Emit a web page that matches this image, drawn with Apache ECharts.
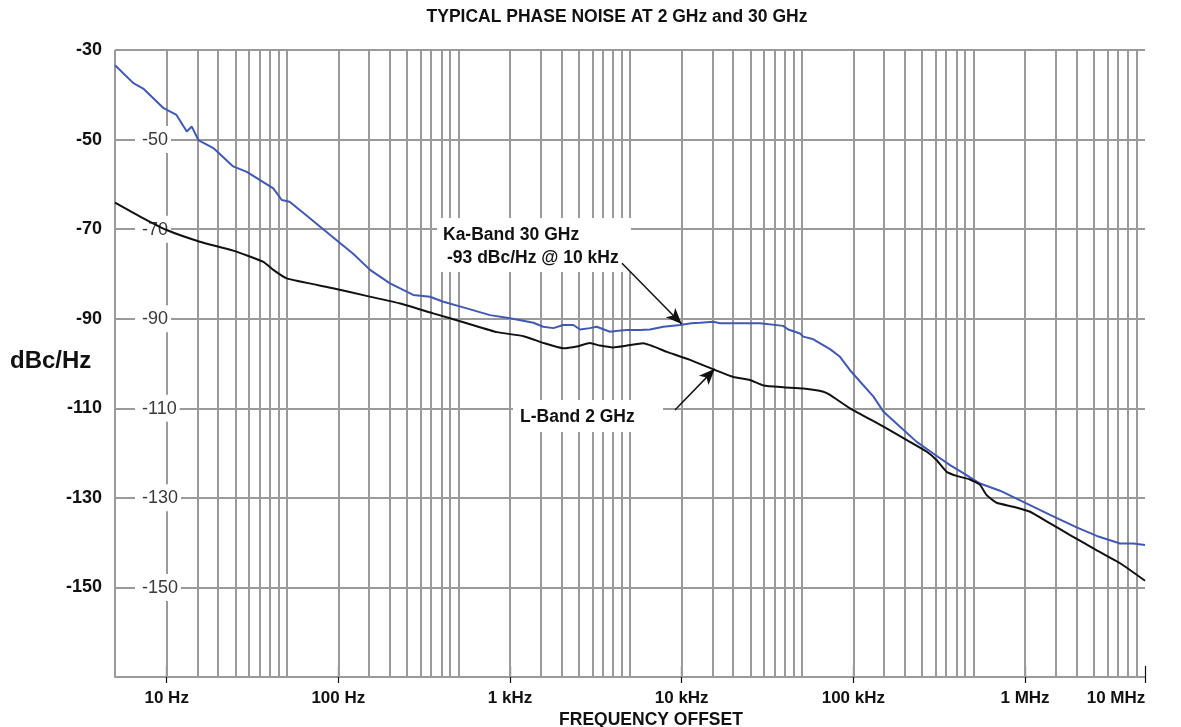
<!DOCTYPE html>
<html lang="en">
<head>
    <meta charset="UTF-8">
    <title>Typical phase noise at 2 GHz and 30 GHz</title>
    <script src="https://cdn.jsdelivr.net/npm/echarts@6/dist/echarts.min.js"></script>
    <style>
        html, body { margin: 0; padding: 0; background: #fff; }
    </style>
</head>
<body>
<div id="main" style="width: 1181px; height: 727px;"></div>
<script>
    // Ka-Band 30 GHz trace (offset in Hz, dBc/Hz)
    var kaFreq = [5, 6.4, 7.3, 9.6, 11.4, 13.1, 14.0, 15.3, 18.7, 24.4, 29.3, 41.8, 46.8, 52, 65, 93, 122, 153, 200, 273,
        342, 409, 560, 765, 1000, 1370, 1560, 1790, 2040, 2340, 2560, 2920, 3200, 3820, 4270, 4780, 5720, 6540, 7820,
        9800, 11400, 12800, 15300, 16700, 20000, 28600, 39000, 41800, 48900, 51100, 58500, 73100, 83600, 95600,
        114000, 131000, 150000, 187000, 234000, 292000, 366000, 437000, 547000, 715000, 977000, 1400000, 2000000,
        2620000, 3580000, 4270000, 5000000];
    var kaDb = [-33.4, -37.4, -38.6, -43.0, -44.5, -48.2, -47.1, -50.1, -51.9, -56.0, -57.2, -60.9, -63.5, -63.9, -66.9, -71.8, -75.5, -79.1, -82.1, -84.7,
        -85.1, -86.2, -87.7, -89.2, -89.9, -90.9, -91.8, -92.1, -91.4, -91.4, -92.4, -92.1, -91.8, -92.9, -92.7, -92.5, -92.5, -92.4, -91.8,
        -91.4, -91.0, -90.9, -90.7, -91.0, -91.0, -91.0, -91.6, -92.4, -93.3, -94.0, -94.6, -96.8, -98.5, -101.5,
        -104.8, -107.4, -110.8, -114.1, -117.5, -120.1, -122.7, -124.5, -126.8, -128.4, -130.9, -133.8, -136.6,
        -138.5, -140.2, -140.2, -140.5];

    // L-Band 2 GHz trace
    var lFreq = [5, 7.0, 10.0, 15.6, 24.4, 36.6, 41.8, 50, 93, 146, 229, 357, 560, 840, 1200, 1560, 2040, 2450, 2920, 3340,
        4000, 4800, 5980, 8180, 11200, 15300, 20000, 25000, 29900, 39100, 51100, 66900, 73100, 95600, 150000, 205000,
        268000, 306000, 350000, 400000, 478000, 547000, 598000, 684000, 855000, 1070000, 1400000, 1830000, 2620000,
        3580000, 5000000];
    var lDb = [-64.1, -67.2, -70.2, -72.8, -74.8, -77.3, -79.1, -81.0, -83.2, -84.9, -86.6, -88.8, -91.0, -93.0, -93.9, -95.4, -96.6, -96.2, -95.4, -96.0,
        -96.4, -96.0, -95.5, -97.4, -99.2, -101.3, -103.0, -103.7, -104.9, -105.3, -105.6, -106.3, -107.0, -110.0, -114.1, -117.1,
        -119.7, -121.6, -124.2, -125.1, -125.9, -127.1, -129.4, -131.1, -132.0, -133.1, -135.7, -138.3, -141.7,
        -144.6, -148.5];

    // axis labels
    var xTickHz = [10, 100, 1000, 10000, 100000, 1000000, 5000000];
    var xTickText = ['10 Hz', '100 Hz', '1 kHz', '10 kHz', '100 kHz', '1 MHz', '10 MHz'];
    var ghostLabels = [-50, -70, -90, -110, -130, -150];

    // annotation arrows: [from, to] as [Hz, dBc/Hz]
    var kaArrow = [[4490, -77.6], [10000, -91.2]];
    var lArrow = [[9140, -110.4], [15600, -101.2]];

    var FONT = '"Liberation Sans", Arial, Helvetica, sans-serif';
    var GRID_GREY = '#9a9a9a';

    function lg(v) { return Math.log10(v); }

    function pairs(xs, ys) {
        var out = [];
        for (var i = 0; i < xs.length; i++) {
            out.push([lg(xs[i]), ys[i]]);
        }
        return out;
    }

    // log grid lines at 5*m*10^n, m = 1..9
    var gridLines = [];
    for (var n = 0; n < 6; n++) {
        for (var m = 1; m <= 9; m++) {
            gridLines.push({xAxis: lg(5 * m * Math.pow(10, n))});
        }
    }
    gridLines.push({xAxis: lg(5e6)});

    function xLabel(v) {
        for (var i = 0; i < xTickHz.length; i++) {
            if (Math.abs(lg(xTickHz[i]) - v) < 1e-6) {
                if (i === xTickHz.length - 1) {
                    return '{r|' + xTickText[i] + '}';
                }
                return xTickText[i];
            }
        }
        return '';
    }

    var xTicks = xTickHz.map(lg);
    var xMin = lg(5), xMax = lg(5e6);

    var myChart = echarts.init(document.getElementById('main'));
    var option = {
        animation: false,
        textStyle: { fontFamily: FONT },
        grid: { left: 115, right: 36, top: 50, bottom: 50 },
        xAxis: [{
            type: 'value',
            min: xMin,
            max: xMax,
            position: 'bottom',
            axisLine: { lineStyle: { color: GRID_GREY, width: 2 } },
            axisTick: { customValues: xTicks, length: 6, lineStyle: { color: '#111', width: 1.2 } },
            axisLabel: {
                customValues: xTicks,
                formatter: xLabel,
                color: '#111',
                fontWeight: 'bold',
                fontSize: 17,
                margin: 13,
                rich: {
                    r: { color: '#111', fontWeight: 'bold', fontSize: 17, fontFamily: FONT, padding: [0, 58, 0, 0] }
                }
            },
            splitLine: { show: false }
        }, {
            type: 'value',
            min: xMin,
            max: xMax,
            position: 'bottom',
            offset: 0,
            axisLine: { show: false },
            axisTick: { customValues: xTicks, inside: true, length: 11, lineStyle: { color: '#111', width: 1.2 } },
            axisLabel: { show: false },
            splitLine: { show: false }
        }],
        yAxis: [{
            type: 'value',
            min: -170,
            max: -30,
            interval: 20,
            position: 'left',
            axisLine: { show: false },
            axisTick: { show: false },
            axisLabel: {
                color: '#111',
                fontWeight: 'bold',
                fontSize: 18,
                margin: 13,
                formatter: function (v) { return v === -170 ? '' : String(v); }
            },
            splitLine: { lineStyle: { color: GRID_GREY, width: 2 } }
        }, {
            // faint labels printed inside the plot
            type: 'value',
            min: -170,
            max: -30,
            interval: 20,
            position: 'left',
            offset: 0,
            z: 3,
            axisLine: { show: false },
            axisTick: { show: false },
            splitLine: { show: false },
            axisLabel: {
                inside: true,
                margin: 20,
                formatter: function (v) { return ghostLabels.indexOf(v) >= 0 ? '{g|' + v + '}' : ''; },
                rich: {
                    g: {
                        color: '#3a3a3a', fontSize: 18, lineHeight: 18, fontFamily: FONT,
                        backgroundColor: '#fff', padding: [5, 3, 4, 7]
                    }
                }
            }
        }],
        series: [{
            // background log grid
            type: 'line',
            data: [],
            z: 1,
            silent: true,
            markLine: {
                z: 1,
                silent: true,
                symbol: ['none', 'none'],
                label: { show: false },
                lineStyle: { color: GRID_GREY, width: 2, type: 'solid' },
                emphasis: { disabled: true },
                data: gridLines
            }
        }, {
            name: 'Ka-Band 30 GHz',
            type: 'line',
            data: pairs(kaFreq, kaDb),
            showSymbol: false,
            z: 4,
            lineStyle: { color: '#4159b2', width: 2 }
        }, {
            name: 'L-Band 2 GHz',
            type: 'line',
            data: pairs(lFreq, lDb),
            showSymbol: false,
            smooth: 0.15,
            z: 4,
            lineStyle: { color: '#111', width: 2 }
        }, {
            // annotation arrows
            type: 'line',
            data: [],
            z: 20,
            silent: true,
            markLine: {
                z: 20,
                silent: true,
                symbol: ['none', 'arrow'],
                symbolSize: [10, 16],
                label: { show: false },
                lineStyle: { color: '#111', width: 1.5, type: 'solid' },
                emphasis: { disabled: true },
                data: [
                    [{ coord: [lg(kaArrow[0][0]), kaArrow[0][1]] }, { coord: [lg(kaArrow[1][0]), kaArrow[1][1]] }],
                    [{ coord: [lg(lArrow[0][0]), lArrow[0][1]] }, { coord: [lg(lArrow[1][0]), lArrow[1][1]] }]
                ]
            }
        }],
        graphic: [
            {
                type: 'text', x: 617, y: 17.5, z: 10,
                style: { text: 'TYPICAL PHASE NOISE AT 2 GHz and 30 GHz', font: 'bold 17.5px ' + FONT, fill: '#111', align: 'center', verticalAlign: 'middle' }
            },
            {
                type: 'text', x: 10, y: 361, z: 10,
                style: { text: 'dBc/Hz', font: 'bold 24px ' + FONT, fill: '#111', align: 'left', verticalAlign: 'middle' }
            },
            {
                type: 'text', x: 651, y: 720, z: 10,
                style: { text: 'FREQUENCY OFFSET', font: 'bold 17.5px ' + FONT, fill: '#111', align: 'center', verticalAlign: 'middle' }
            },
            {
                type: 'rect', shape: { x: 437, y: 218, width: 194, height: 54 }, z: 10,
                style: { fill: '#fff' }
            },
            {
                type: 'text', x: 443, y: 235, z: 11,
                style: { text: 'Ka-Band 30 GHz', font: 'bold 17.5px ' + FONT, fill: '#111', align: 'left', verticalAlign: 'middle' }
            },
            {
                type: 'text', x: 447, y: 258, z: 11,
                style: { text: '-93 dBc/Hz @ 10 kHz', font: 'bold 17.5px ' + FONT, fill: '#111', align: 'left', verticalAlign: 'middle' }
            },
            {
                type: 'rect', shape: { x: 513, y: 400, width: 150, height: 32 }, z: 10,
                style: { fill: '#fff' }
            },
            {
                type: 'text', x: 520, y: 417, z: 11,
                style: { text: 'L-Band 2 GHz', font: 'bold 17.5px ' + FONT, fill: '#111', align: 'left', verticalAlign: 'middle' }
            }
        ]
    };
    myChart.setOption(option);
</script>
</body>
</html>
